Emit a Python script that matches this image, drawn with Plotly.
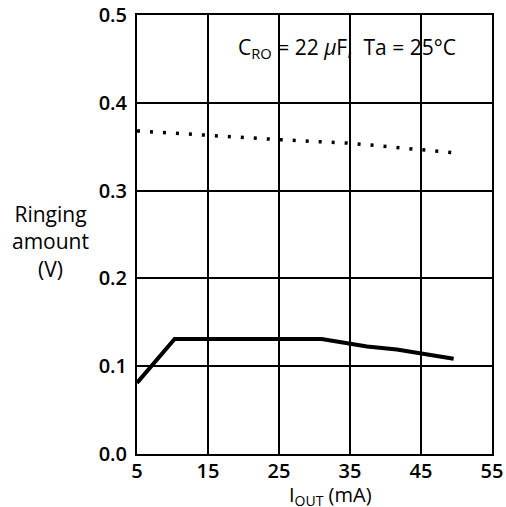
import plotly.graph_objects as go

# Data
solid_x = [5, 10.3, 31, 37.4, 41.6, 49.6]
solid_y = [0.081, 0.131, 0.131, 0.1225, 0.119, 0.1085]
dot_x = [5, 15, 25, 35, 49.8]
dot_y = [0.368, 0.363, 0.358, 0.354, 0.343]

x_ticks = [5, 15, 25, 35, 45, 55]
y_ticks = [0.0, 0.1, 0.2, 0.3, 0.4, 0.5]
y_tick_labels = ["0.0", "0.1", "0.2", "0.3", "0.4", "0.5"]

FONT = "Open Sans"

fig = go.Figure()
fig.add_trace(go.Scatter(x=dot_x, y=dot_y, mode="lines",
                         line=dict(color="black", width=3.5, dash="3px,10px"),
                         showlegend=False))
fig.add_trace(go.Scatter(x=solid_x, y=solid_y, mode="lines",
                         line=dict(color="black", width=4),
                         showlegend=False))

axis_common = dict(showgrid=True, gridcolor="black", gridwidth=2,
                   showline=True, linecolor="black", linewidth=2, mirror=True,
                   zeroline=False, ticks="", automargin=False,
                   ticklabeloverflow="allow",
                   tickfont=dict(family=FONT, size=20, color="black", weight=600))

fig.update_xaxes(range=[5, 55], tickvals=x_ticks, ticktext=[str(t) for t in x_ticks],
                 ticklabelstandoff=-2, **axis_common)
fig.update_yaxes(range=[0, 0.5], tickvals=y_ticks, ticktext=y_tick_labels,
                 ticklabelstandoff=4, **axis_common)

fig.add_annotation(x=0.905, y=0.925, xref="paper", yref="paper",
                   xanchor="right", yanchor="middle", showarrow=False,
                   text="C<sub>RO</sub> = 22 <i>μ</i>F,  Ta = 25°C",
                   font=dict(family=FONT, size=21, color="black"))
fig.add_annotation(x=-0.245, y=0.485, xref="paper", yref="paper",
                   xanchor="center", yanchor="middle", showarrow=False, align="center",
                   text="Ringing<br>amount<br>(V)",
                   font=dict(family=FONT, size=21, color="black"))
fig.add_annotation(x=0.545, y=-0.094, xref="paper", yref="paper",
                   xanchor="center", yanchor="middle", showarrow=False,
                   text="I<sub>OUT</sub> (mA)",
                   font=dict(family=FONT, size=20, color="black"))

fig.update_layout(width=506, height=507,
                  margin=dict(l=137, r=14, t=15, b=53),
                  paper_bgcolor="white", plot_bgcolor="white")

fig.write_html("out.html", config={"displayModeBar": False},
               post_script="document.body.style.margin='0';document.body.style.overflow='hidden';")
